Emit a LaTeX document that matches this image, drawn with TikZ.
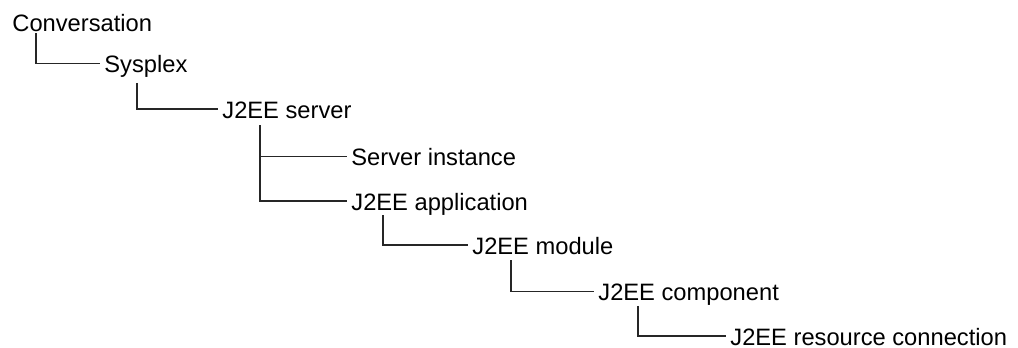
\documentclass[tikz,border=0pt]{standalone}
\usepackage{fontspec}
\setmainfont{Liberation Sans}
\usepackage{tikz}
\usetikzlibrary{calc}

\begin{document}
\begin{tikzpicture}[
    x=0.5pt, y=-0.5pt,
    font=\fontsize{11.85}{14}\selectfont,
    % Label style for tree entries
    item/.style={anchor=west, inner xsep=0pt, inner ysep=0pt, text height=9pt, text depth=0pt},
    % Connector style
    link/.style={line width=0.8pt, black!85, shorten >=2pt}
]
    \useasboundingbox (0,0) rectangle (1018,348);

    % --- TREE ENTRIES ---
    \node[item] (conv)   at (12, 22.7)  {Conversation};
    \node[item] (sysplex) at (104, 63.5) {Sysplex};
    \node[item] (server) at (222, 109)   {J2EE server};
    \node[item] (inst)   at (351, 156.5) {Server instance};
    \node[item] (app)    at (351, 201)   {J2EE application};
    \node[item] (module) at (472, 245)   {J2EE module};
    \node[item] (comp)   at (598, 291.5) {J2EE component};
    \node[item] (rescon) at (730, 336)   {J2EE resource connection};

    % --- CONNECTORS ---
    \draw[link] ($(conv.south west)+(24,1)$) |- (sysplex.west);
    \draw[link] ($(sysplex.south west)+(33,10)$) |- (server.west);
    \draw[link] ($(server.south west)+(38,7)$) |- (inst.west);
    \draw[link] ($(server.south west)+(38,7)$) |- (app.west);
    \draw[link] ($(app.south west)+(32,5)$) |- (module.west);
    \draw[link] ($(module.south west)+(39,6)$) |- (comp.west);
    \draw[link] ($(comp.south west)+(40,5)$) |- (rescon.west);

\end{tikzpicture}
\end{document}
